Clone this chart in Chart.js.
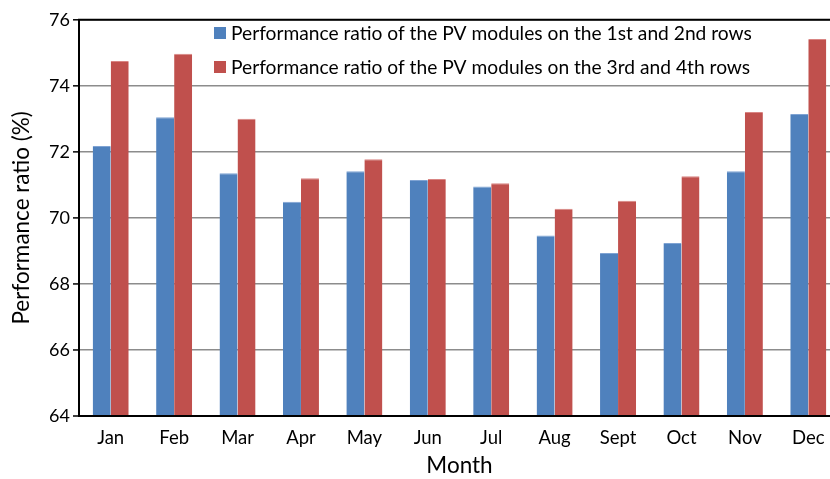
<!DOCTYPE html>
<html><head><meta charset="utf-8">
<script src="https://cdn.jsdelivr.net/npm/chart.js@4/dist/chart.umd.min.js"></script>
<style>html,body{margin:0;padding:0;background:#fff;overflow:hidden}#wrap{width:840px;height:479px;position:relative}</style>
</head><body><div id="wrap"><canvas id="c"></canvas></div>
<script>
const months = ["Jan","Feb","Mar","Apr","May","Jun","Jul","Aug","Sept","Oct","Nov","Dec"];
const rows12 = [72.18,73.05,71.35,70.49,71.41,71.15,70.95,69.47,68.94,69.24,71.41,73.15];
const rows34 = [74.75,74.97,73.00,71.20,71.78,71.18,71.05,70.28,70.52,71.26,73.21,75.42];
const label12 = "Performance ratio of the PV modules on the 1st and 2nd rows";
const label34 = "Performance ratio of the PV modules on the 3rd and 4th rows";
const FONT = "Lato, 'Open Sans', sans-serif";

const legendPlugin = {
  id:'inLegend',
  afterDraw(chart){
    const ctx = chart.ctx;
    ctx.save();
    ctx.font = "19.2px " + FONT;
    ctx.textBaseline = 'middle';
    const ys = [33, 67];
    chart.data.datasets.forEach((ds,i)=>{
      ctx.fillStyle = ds.backgroundColor;
      ctx.fillRect(214, ys[i]-6, 12, 12);
      ctx.fillStyle = '#000';
      ctx.fillText(ds.label, 231, ys[i]+1);
    });
    ctx.restore();
  }
};
const borderPlugin = {
  id:'border',
  afterDatasetsDraw(chart){
    const a = chart.chartArea, ctx = chart.ctx;
    ctx.save();
    ctx.strokeStyle = '#000'; ctx.lineWidth = 2;
    ctx.beginPath();
    ctx.moveTo(a.left, a.top); ctx.lineTo(a.right, a.top);
    ctx.moveTo(a.left, a.top-1); ctx.lineTo(a.left, a.bottom+1);
    ctx.moveTo(a.left-1, a.bottom); ctx.lineTo(a.right, a.bottom);
    ctx.stroke();
    const y = chart.scales.y;
    ctx.lineWidth = 1.5;
    y.ticks.forEach(t=>{
      const py = y.getPixelForValue(t.value);
      ctx.beginPath(); ctx.moveTo(a.left-6, py); ctx.lineTo(a.left, py); ctx.stroke();
    });
    ctx.restore();
  }
};

new Chart(document.getElementById('c'), {
  type:'bar',
  data:{labels:months, datasets:[
    {label:label12, data:rows12, backgroundColor:'#4F81BD', borderColor:'#7FA3D3', borderWidth:{left:0,right:0,top:1,bottom:0}},
    {label:label34, data:rows34, backgroundColor:'#C0504D', borderColor:'#D98583', borderWidth:{left:0,right:0,top:1,bottom:0}}
  ]},
  options:{
    responsive:true, maintainAspectRatio:false, animation:false,
    layout:{padding:{top:19,right:0,left:0,bottom:0}},
    plugins:{legend:{display:false}, tooltip:{enabled:false}},
    datasets:{bar:{barPercentage:1.0, categoryPercentage:0.568}},
    scales:{
      x:{
        grid:{display:false, drawTicks:false},
        border:{display:false},
        ticks:{color:'#000', font:{family:FONT, size:18.5}, padding:11, maxRotation:0, autoSkip:false},
        title:{display:true, text:'Month', color:'#000', font:{family:FONT, size:22.5}, padding:{top:0,bottom:0}},
        afterFit(s){ s.height = 63; }
      },
      y:{
        min:64, max:76,
        grid:{color:'#8c8c8c', lineWidth:1.5, drawTicks:false},
        border:{display:false},
        ticks:{stepSize:2, color:'#000', font:{family:FONT, size:18}, padding:9},
        title:{display:true, text:'Performance ratio (%)', color:'#000', font:{family:FONT, size:22.5}, padding:{top:8,bottom:0}},
        afterFit(s){ s.width = 79; }
      }
    }
  },
  plugins:[legendPlugin, borderPlugin]
});
</script></body></html>
